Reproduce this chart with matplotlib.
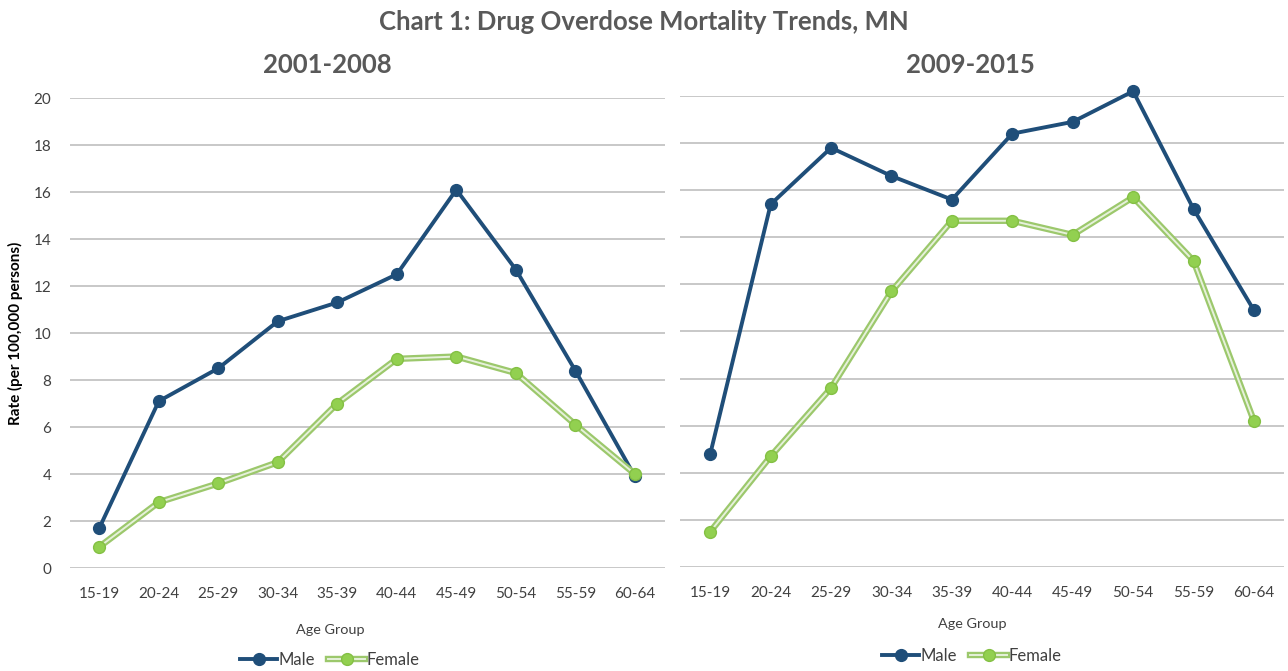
import numpy as np
from matplotlib import pyplot as plt
from matplotlib import patheffects as pe
from matplotlib.lines import Line2D
from matplotlib.legend_handler import HandlerTuple

plt.rcParams['font.family'] = ['Lato', 'DejaVu Sans']

# Data
age_groups = ['15-19', '20-24', '25-29', '30-34', '35-39',
              '40-44', '45-49', '50-54', '55-59', '60-64']
male_2001 = [1.7, 7.1, 8.5, 10.5, 11.3, 12.5, 16.1, 12.7, 8.4, 3.9]
female_2001 = [0.9, 2.8, 3.6, 4.5, 7.0, 8.9, 9.0, 8.3, 6.1, 4.0]
male_2009 = [4.8, 15.4, 17.8, 16.6, 15.6, 18.4, 18.9, 20.2, 15.2, 10.9]
female_2009 = [1.5, 4.7, 7.6, 11.7, 14.7, 14.7, 14.1, 15.7, 13.0, 6.2]

male_col = '#1f4e79'
fem_edge = '#9cc86c'
fem_fill = '#e6f1da'
fem_mark = '#92d050'
text_col = '#404040'
title_col = '#595959'

fig = plt.figure(figsize=(12.88, 6.71), dpi=100)
ax1 = fig.add_axes([0.054, 0.1535, 0.462, 0.7004])
ax2 = fig.add_axes([0.528, 0.155, 0.469, 0.702])

fem_effects = [pe.Stroke(linewidth=4.6, foreground=fem_edge), pe.Normal()]


def draw(ax, male, female, show_y):
    x = np.arange(len(age_groups))
    ax.plot(x, male, color=male_col, lw=2.8, marker='o', ms=8.5,
            mfc=male_col, mec=male_col, zorder=3, clip_on=False)
    ax.plot(x, female, color=fem_fill, lw=1.4, zorder=4, clip_on=False,
            path_effects=fem_effects)
    ax.plot(x, female, ls='none', marker='o', ms=8.5, mfc=fem_mark,
            mec='#84c044', mew=1.0, zorder=5, clip_on=False)
    ax.set_xlim(-0.5, 9.5)
    ax.set_ylim(0, 20)
    ax.set_yticks(range(0, 21, 2))
    ax.set_xticks(x)
    ax.set_xticklabels(age_groups)
    ax.grid(axis='y', color='#bfbfbf', lw=1.2)
    ax.set_axisbelow(True)
    for s in ax.spines.values():
        s.set_visible(False)
    ax.tick_params(length=0, labelsize=11, colors=text_col)
    ax.tick_params(axis='x', pad=14)
    ax.tick_params(axis='y', pad=13)
    if not show_y:
        ax.set_yticklabels([])


draw(ax1, male_2001, female_2001, True)
draw(ax2, male_2009, female_2009, False)

# Titles and labels
fig.text(0.5, 1 - 22 / 671, 'Chart 1: Drug Overdose Mortality Trends, MN',
         ha='center', va='center', fontsize=18.5, fontweight='bold', color=title_col)
fig.text(327 / 1288, 1 - 65 / 671, '2001-2008', ha='center', va='center',
         fontsize=18.5, fontweight='bold', color=title_col)
fig.text(970 / 1288, 1 - 65 / 671, '2009-2015', ha='center', va='center',
         fontsize=18.5, fontweight='bold', color=title_col)
fig.text(15 / 1288, 1 - 333 / 671, 'Rate (per 100,000 persons)', rotation=90,
         ha='center', va='center', fontsize=11, fontweight='bold', color='black')
fig.text(330 / 1288, 1 - 630 / 671, 'Age Group', ha='center', va='center',
         fontsize=10.4, color=text_col)
fig.text(972 / 1288, 1 - 624 / 671, 'Age Group', ha='center', va='center',
         fontsize=10.4, color=text_col)

# Legends
male_h = Line2D([], [], color=male_col, lw=2.8, marker='o', ms=8.5,
                mfc=male_col, mec=male_col)
fem_line = Line2D([], [], color=fem_fill, lw=1.4, path_effects=fem_effects)
fem_dot = Line2D([], [], ls='none', marker='o', ms=8.5, mfc=fem_mark,
                 mec='#84c044', mew=1.0)
for cx, cy in [(330 / 1288, 1 - 660 / 671), (972 / 1288, 1 - 656 / 671)]:
    fig.legend([male_h, (fem_line, fem_dot)], ['Male', 'Female'], loc='center',
               bbox_to_anchor=(cx, cy), ncol=2, frameon=False, fontsize=12,
               handlelength=2.2, handletextpad=0.1, columnspacing=0.8,
               labelcolor=text_col, handler_map={tuple: HandlerTuple(ndivide=1)})

plt.savefig('out.png')
